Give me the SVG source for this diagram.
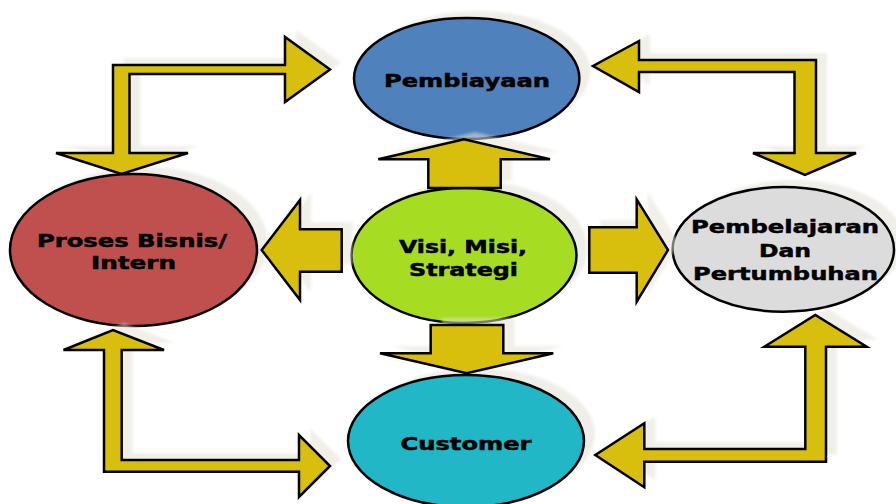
<svg xmlns="http://www.w3.org/2000/svg" xmlns:xlink="http://www.w3.org/1999/xlink" width="896" height="504" viewBox="0 0 896 504">
  <style>
    .node { stroke: #000; stroke-width: 2.5; }
    .nshadow { fill: #efeee8; filter: url(#soft); }
    .ashadow { fill: #e4e2d6; opacity: 0.55; filter: url(#soft); }
    .arrow { fill: #d8bf0d; stroke: #000; stroke-width: 2.5; stroke-linejoin: miter; }
    .label { font-family: "DejaVu Sans", Verdana, sans-serif; font-weight: bold; font-size: 18px; fill: #000; stroke: #000; stroke-width: 0.5; text-anchor: middle; }
  </style>
  <defs>
    <filter id="soft" x="-10%" y="-10%" width="120%" height="120%">
      <feGaussianBlur stdDeviation="1.5"/>
    </filter>
    <!-- elbow arrows between the outer perspectives -->
    <path id="a-tl" d="M113,65 H285 V37 L330,69.5 L285,102 V74 H129.5 V153 H188 L121.5,174 L56,153 H113 Z"/>
    <path id="a-tr" d="M816,60 H639 V41 L593,66 L639,92 V72 H794.5 V153 H753 L805,175 L856,153 H816 Z"/>
    <path id="a-bl" d="M104,471.7 V350 H63.5 L113,330 L164,350 H121.7 V460 H299 V435 L330,466 L299,497 V471.7 Z"/>
    <path id="a-br" d="M826,461.7 V346.7 H866.7 L815.3,315 L764.3,346.7 H805.3 V449 H644.3 V423.3 L595.3,455 L644.3,487.3 V461.7 Z"/>
    <!-- block arrows out of the centre -->
    <path id="a-up" d="M428.3,188 V159.3 H378.3 L464,139.3 L550,159.3 H500.7 V188 Z"/>
    <path id="a-down" d="M430.7,325 V353.3 H380 L466.7,373.3 L553.3,353.3 H503.3 V325 Z"/>
    <path id="a-left" d="M341.7,229.3 H300 V200 L261.7,250 L300,300 V271.7 H341.7 Z"/>
    <path id="a-right" d="M589.3,227.3 H636.7 V199.3 L668,250 L636.7,301.7 V272.7 H589.3 Z"/>
  </defs>

  <rect width="896" height="504" fill="#fff"/>

  <g id="pembiayaan">
    <ellipse class="nshadow" cx="477.7" cy="71.5" rx="112.7" ry="60.5"/>
    <ellipse class="node" cx="466.7" cy="78.5" rx="112.7" ry="60.5" fill="#4f81bd"/>
    <text class="label" x="467" y="87" textLength="166" lengthAdjust="spacingAndGlyphs">Pembiayaan</text>
  </g>

  <g id="proses-bisnis">
    <ellipse class="nshadow" cx="144.5" cy="243" rx="123.5" ry="76"/>
    <ellipse class="node" cx="133.5" cy="250" rx="123.5" ry="76" fill="#c0504d"/>
    <text class="label" x="132" y="247" textLength="190" lengthAdjust="spacingAndGlyphs">Proses Bisnis/</text>
    <text class="label" x="133.5" y="269" textLength="85" lengthAdjust="spacingAndGlyphs">Intern</text>
  </g>

  <g id="visi-misi">
    <ellipse class="nshadow" cx="475" cy="248.5" rx="112.5" ry="67.5"/>
    <ellipse class="node" cx="464" cy="255.5" rx="112.5" ry="67.5" fill="#a6dd22"/>
    <text class="label" x="463" y="253" textLength="128" lengthAdjust="spacingAndGlyphs">Visi, Misi,</text>
    <text class="label" x="463.5" y="276" textLength="109" lengthAdjust="spacingAndGlyphs">Strategi</text>
  </g>

  <g id="pembelajaran">
    <ellipse class="nshadow" cx="794.3" cy="242.4" rx="110.7" ry="62.3"/>
    <ellipse class="node" cx="783.3" cy="249.4" rx="110.7" ry="62.3" fill="#dcdcdc"/>
    <text class="label" x="785" y="233.3" textLength="188" lengthAdjust="spacingAndGlyphs">Pembelajaran</text>
    <text class="label" x="785" y="256.5" textLength="52" lengthAdjust="spacingAndGlyphs">Dan</text>
    <text class="label" x="785.5" y="280" textLength="185" lengthAdjust="spacingAndGlyphs">Pertumbuhan</text>
  </g>

  <g id="customer">
    <ellipse class="nshadow" cx="477" cy="434" rx="118" ry="66"/>
    <ellipse class="node" cx="466" cy="441" rx="118" ry="66" fill="#21b7c6"/>
    <text class="label" x="466" y="449.5" textLength="131" lengthAdjust="spacingAndGlyphs">Customer</text>
  </g>

  <g id="connectors">
    <g transform="translate(11,-7)">
      <use class="ashadow" xlink:href="#a-tl" href="#a-tl"/>
      <use class="ashadow" xlink:href="#a-tr" href="#a-tr"/>
      <use class="ashadow" xlink:href="#a-bl" href="#a-bl"/>
      <use class="ashadow" xlink:href="#a-br" href="#a-br"/>
      <use class="ashadow" xlink:href="#a-up" href="#a-up"/>
      <use class="ashadow" xlink:href="#a-down" href="#a-down"/>
      <use class="ashadow" xlink:href="#a-left" href="#a-left"/>
      <use class="ashadow" xlink:href="#a-right" href="#a-right"/>
    </g>
    <use class="arrow" xlink:href="#a-tl" href="#a-tl"/>
    <use class="arrow" xlink:href="#a-tr" href="#a-tr"/>
    <use class="arrow" xlink:href="#a-bl" href="#a-bl"/>
    <use class="arrow" xlink:href="#a-br" href="#a-br"/>
    <use class="arrow" xlink:href="#a-up" href="#a-up"/>
    <use class="arrow" xlink:href="#a-down" href="#a-down"/>
    <use class="arrow" xlink:href="#a-left" href="#a-left"/>
    <use class="arrow" xlink:href="#a-right" href="#a-right"/>
  </g>
</svg>
